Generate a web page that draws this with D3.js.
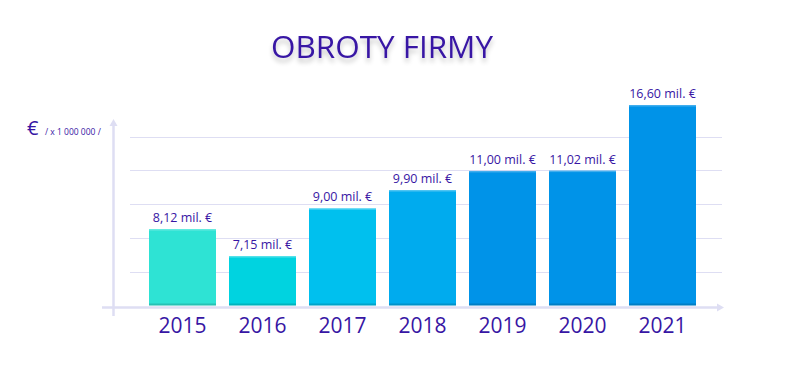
<!DOCTYPE html>
<html><head><meta charset="utf-8">
<script src="https://cdn.jsdelivr.net/npm/d3@7"></script>
<style>
html,body{margin:0;padding:0;background:#fff;}
svg{display:block;font-family:"Open Sans","Noto Sans",sans-serif;}
</style></head>
<body>
<svg id="chart" width="810" height="371"></svg>
<script>
const title = "OBROTY FIRMY";
const years = ["2015","2016","2017","2018","2019","2020","2021"];
const values = [8.12, 7.15, 9.00, 9.90, 11.00, 11.02, 16.60];
const labels = ["8,12 mil. €","7,15 mil. €","9,00 mil. €","9,90 mil. €","11,00 mil. €","11,02 mil. €","16,60 mil. €"];
const barColors = ["#2ee3d4","#00d3e0","#00c0ee","#00abee","#0093e8","#0093e8","#0093e8"];
const gridLevels = [1,2,3,4,5];

const svg = d3.select("#chart");
const textColor = "#3716a4";
const axisColor = "#dedef3";
const baseY = 305.5;

const defs = svg.append("defs");
const f = defs.append("filter").attr("id","tshadow").attr("x","-10%").attr("y","-30%").attr("width","120%").attr("height","180%");
f.append("feGaussianBlur").attr("in","SourceAlpha").attr("stdDeviation",2.5).attr("result","b");
f.append("feOffset").attr("dy",4).attr("result","o");
f.append("feComponentTransfer").append("feFuncA").attr("type","linear").attr("slope",0.25);
const m = f.append("feMerge"); m.append("feMergeNode"); m.append("feMergeNode").attr("in","SourceGraphic");

// title
svg.append("text").attr("x",382).attr("y",58).attr("text-anchor","middle")
  .attr("font-size",31).attr("fill",textColor).attr("filter","url(#tshadow)")
  .attr("textLength",222).attr("lengthAdjust","spacingAndGlyphs")
  .text(title);

const x = d3.scaleBand().domain(years).range([142.5,702.5]).paddingInner(0.1625).paddingOuter(0.08125);
const y = d3.scalePow().exponent(-0.5).domain([5.78, 16.6]).range([baseY, 105]);
const grid = d3.scaleLinear().domain([0,5]).range([baseY, 136.5]);

// gridlines
svg.append("g").selectAll("line").data(gridLevels).join("line")
  .attr("x1",130).attr("x2",722)
  .attr("y1",d=>Math.round(grid(d))+0.5).attr("y2",d=>Math.round(grid(d))+0.5)
  .attr("stroke",axisColor).attr("stroke-width",1);

// axes
svg.append("line").attr("x1",113.5).attr("x2",113.5).attr("y1",122).attr("y2",316)
  .attr("stroke",axisColor).attr("stroke-width",2.5);
svg.append("path").attr("d","M109.5,126 L113.5,119 L117.5,126 Z").attr("fill",axisColor);
svg.append("line").attr("x1",102).attr("x2",719).attr("y1",307.5).attr("y2",307.5)
  .attr("stroke",axisColor).attr("stroke-width",2.5);
svg.append("path").attr("d","M717,303.5 L724,307.5 L717,311.5 Z").attr("fill",axisColor);

// bars
const bars = svg.append("g").selectAll("g").data(years).join("g");
bars.append("rect")
  .attr("x",d=>x(d)).attr("width",x.bandwidth())
  .attr("y",(d,i)=>y(values[i])).attr("height",(d,i)=>baseY-y(values[i]))
  .attr("fill",(d,i)=>barColors[i]);
bars.append("rect")
  .attr("x",d=>x(d)).attr("width",x.bandwidth())
  .attr("y",(d,i)=>y(values[i])).attr("height",1.5)
  .attr("fill","#fff").attr("opacity",0.25);
bars.append("rect")
  .attr("x",d=>x(d)).attr("width",x.bandwidth())
  .attr("y",baseY-2).attr("height",2)
  .attr("fill","#000").attr("opacity",0.15);

// value labels
bars.append("text")
  .attr("x",d=>x(d)+x.bandwidth()/2).attr("y",(d,i)=>y(values[i])-7)
  .attr("text-anchor","middle").attr("font-size",12.5).attr("fill",textColor)
  .text((d,i)=>labels[i]);

// year labels
svg.append("g").selectAll("text").data(years).join("text")
  .attr("x",d=>x(d)+x.bandwidth()/2).attr("y",333)
  .attr("text-anchor","middle").attr("font-size",21).attr("fill",textColor)
  .text(d=>d);

// unit label
svg.append("text").attr("x",27).attr("y",135).attr("font-size",20).attr("fill",textColor).text("€");
svg.append("text").attr("x",45).attr("y",135).attr("font-size",8.5).attr("fill",textColor).text("/ x 1 000 000 /");
</script>
</body></html>
